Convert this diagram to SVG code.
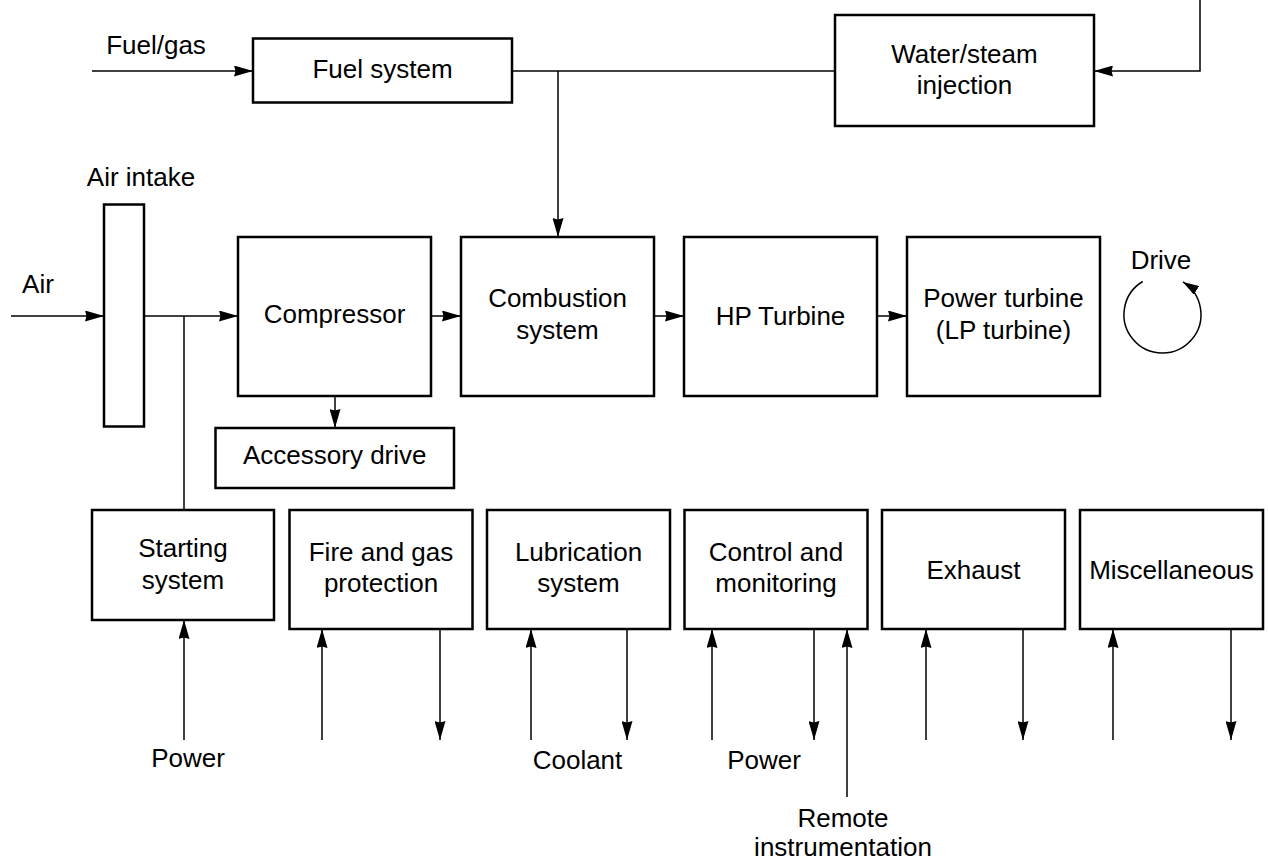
<svg xmlns="http://www.w3.org/2000/svg" width="1268" height="863" viewBox="0 0 1268 863">
<style>
  .box { fill: #fff; stroke: #000; stroke-width: 2.5; }
  .ln { fill: none; stroke: #000; stroke-width: 1.5; }
  .ar { marker-end: url(#arr); }
  text { font-family: "Liberation Sans", Arial, sans-serif; font-size: 26px; fill: #000; text-anchor: middle; }
</style>
<defs>
  <marker id="arr" viewBox="0 0 19 11" refX="19" refY="5.5" markerWidth="19" markerHeight="11" orient="auto" markerUnits="userSpaceOnUse">
    <path d="M0,0 L19,5.5 L0,11 L1.5,5.5 Z" fill="#000"/>
  </marker>
  <marker id="arrs" viewBox="0 0 16 10" refX="16" refY="5" markerWidth="16" markerHeight="10" orient="auto" markerUnits="userSpaceOnUse">
    <path d="M0,0 L16,5 L0,10 Z" fill="#000"/>
  </marker>
</defs>
<rect width="1268" height="863" fill="#fff"/>

<g id="connectors">
  <path class="ln ar" d="M92,71 H253"/>
  <path class="ln" d="M512,71 H835"/>
  <path class="ln ar" d="M558,71 V237"/>
  <path class="ln ar" d="M1200,0 V71 H1094"/>
  <path class="ln ar" d="M11,316 H104"/>
  <path class="ln ar" d="M144,316 H238"/>
  <path class="ln" d="M184,316 V510"/>
  <path class="ln ar" d="M431,316 H461"/>
  <path class="ln ar" d="M654,316 H684"/>
  <path class="ln ar" d="M877,316 H907"/>
  <path class="ln ar" d="M335,396 V428"/>
  <path class="ln ar" d="M184,740 V620"/>
  <path class="ln ar" d="M322,740 V629"/>
  <path class="ln ar" d="M440,629 V740"/>
  <path class="ln ar" d="M531,740 V629"/>
  <path class="ln ar" d="M627,629 V740"/>
  <path class="ln ar" d="M712,740 V629"/>
  <path class="ln ar" d="M814,629 V740"/>
  <path class="ln ar" d="M847,797 V629"/>
  <path class="ln ar" d="M926,740 V629"/>
  <path class="ln ar" d="M1023,629 V740"/>
  <path class="ln ar" d="M1113,740 V629"/>
  <path class="ln ar" d="M1231,629 V740"/>
  <path class="ln" d="M1142.7,281.5 A38.5,38.5 0 1 0 1182.9,281.9" style="marker-end:url(#arrs)"/>
</g>

<g id="fuel-gas-label"><text x="156" y="54">Fuel/gas</text></g>
<g id="fuel-system"><rect class="box" x="253" y="38.5" width="259" height="64"/><text x="382.5" y="78">Fuel system</text></g>
<g id="water-steam"><rect class="box" x="835" y="15" width="259" height="111"/><text x="964.5" y="63">Water/steam</text><text x="964.5" y="94">injection</text></g>
<g id="air-intake"><text x="141" y="186">Air intake</text><rect class="box" x="104" y="204.5" width="40" height="222"/></g>
<g id="air-label"><text x="38" y="293">Air</text></g>
<g id="compressor"><rect class="box" x="238" y="237" width="193" height="159"/><text x="334.5" y="323">Compressor</text></g>
<g id="combustion"><rect class="box" x="461" y="237" width="193" height="159"/><text x="557.5" y="307">Combustion</text><text x="557.5" y="339">system</text></g>
<g id="hp-turbine"><rect class="box" x="684" y="237" width="193" height="159"/><text x="780.5" y="325">HP Turbine</text></g>
<g id="power-turbine"><rect class="box" x="907" y="237" width="193" height="159"/><text x="1003.5" y="307">Power turbine</text><text x="1003.5" y="339">(LP turbine)</text></g>
<g id="drive-label"><text x="1161" y="269">Drive</text></g>
<g id="accessory-drive"><rect class="box" x="215.5" y="428" width="238.5" height="60"/><text x="334.75" y="464">Accessory drive</text></g>
<g id="starting-system"><rect class="box" x="92" y="510" width="182" height="110"/><text x="183" y="557">Starting</text><text x="183" y="589">system</text></g>
<g id="fire-gas"><rect class="box" x="289.5" y="510" width="183" height="119"/><text x="381" y="561">Fire and gas</text><text x="381" y="592">protection</text></g>
<g id="lubrication"><rect class="box" x="487" y="510" width="183" height="119"/><text x="578.5" y="561">Lubrication</text><text x="578.5" y="592">system</text></g>
<g id="control"><rect class="box" x="684.5" y="510" width="183" height="119"/><text x="776" y="561">Control and</text><text x="776" y="592">monitoring</text></g>
<g id="exhaust"><rect class="box" x="882" y="510" width="183" height="119"/><text x="973.5" y="579">Exhaust</text></g>
<g id="misc"><rect class="box" x="1080" y="510" width="183" height="119"/><text x="1171.5" y="579">Miscellaneous</text></g>
<g id="labels-bottom">
  <text x="188" y="767">Power</text>
  <text x="577.5" y="769">Coolant</text>
  <text x="764" y="769">Power</text>
  <text x="843" y="827">Remote</text>
  <text x="843" y="856">instrumentation</text>
</g>
</svg>
